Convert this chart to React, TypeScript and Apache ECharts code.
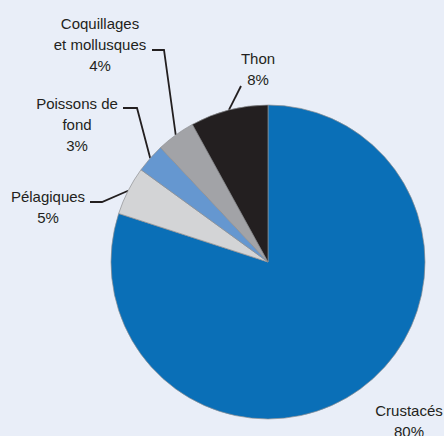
import React, { useEffect, useRef } from "react";
import * as echarts from "echarts";

const categories = ["Crustacés", "Pélagiques", "Poissons de\nfond", "Coquillages\net mollusques", "Thon"];
const shares = [80, 5, 3, 4, 8];
const colors = ["#0a6fb7", "#d3d4d6", "#6597d0", "#a2a3a7", "#231f20"];

// label placement (layout, not data)
const labelPos: { x: number; y: number; guide: number[][] | null }[] = [
  { x: 409, y: 421, guide: null },
  { x: 48, y: 207, guide: [[102, 202], [90, 202]] },
  { x: 77, y: 124, guide: [[137, 108], [123, 108]] },
  { x: 100, y: 44, guide: [[164, 50], [152, 50]] },
  { x: 258, y: 69, guide: [[241, 86]] },
];

export default function App() {
  const ref = useRef<HTMLDivElement>(null);
  useEffect(() => {
    if (!ref.current) return;
    const chart = echarts.init(ref.current, null, { renderer: "svg" });
    chart.setOption({
      animation: false,
      backgroundColor: "#e9eef8",
      series: [
        {
          type: "pie",
          center: [268, 262],
          radius: 157,
          startAngle: 90,
          clockwise: true,
          avoidLabelOverlap: false,
          itemStyle: { borderColor: "#8e8f92", borderWidth: 0.7 },
          label: {
            show: true,
            position: "outside",
            formatter: "{b}\n{c}%",
            fontFamily: "'Liberation Sans', Arial, sans-serif",
            fontSize: 15,
            lineHeight: 21,
            color: "#231f20",
            align: "center",
          },
          labelLine: {
            show: true,
            length: 20,
            length2: 12,
            lineStyle: { color: "#231f20", width: 1.8 },
          },
          labelLayout: (params: any) => {
            const p = labelPos[params.dataIndex];
            const out: any = { x: p.x, y: p.y, align: "center", verticalAlign: "middle" };
            if (p.guide && params.labelLinePoints && params.labelLinePoints.length) {
              out.labelLinePoints = [params.labelLinePoints[0], ...p.guide];
            }
            return out;
          },
          data: categories.map((name, i) => ({
            name,
            value: shares[i],
            itemStyle: { color: colors[i] },
            labelLine: { show: i !== 0 },
          })),
        },
      ],
    });
    return () => chart.dispose();
  }, []);
  return (
    <div
      ref={ref}
      style={{ position: "fixed", left: 0, top: 0, width: 444, height: 436 }}
    />
  );
}
